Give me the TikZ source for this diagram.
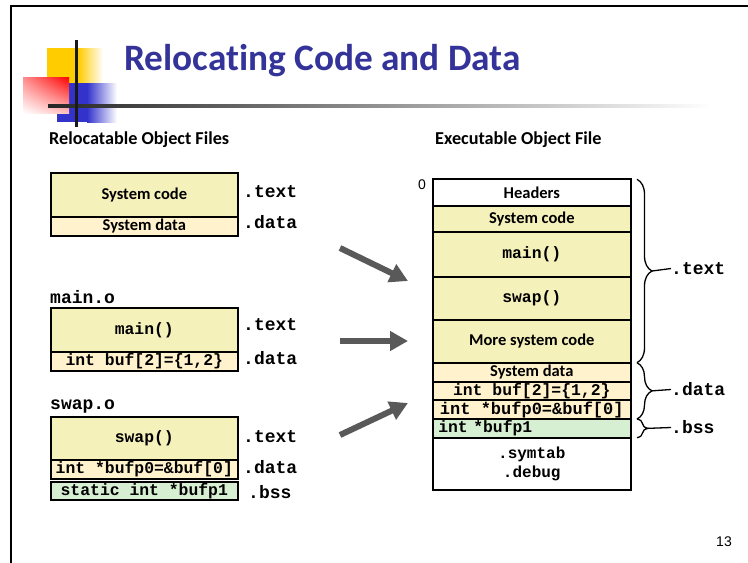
\documentclass[tikz,border=0pt]{standalone}
\usepackage{fontspec}
\setmainfont{Carlito}[Ligatures=NoCommon]
\newfontfamily\monof{Liberation Mono}
\newfontfamily\arialf{Liberation Sans}
\usetikzlibrary{arrows.meta,decorations.pathreplacing,shadings}
\definecolor{titleblue}{RGB}{51,51,153}
\definecolor{codec}{RGB}{245,241,186}
\definecolor{datac}{RGB}{255,242,204}
\definecolor{bssc}{RGB}{214,239,210}
\definecolor{arrowc}{RGB}{89,89,89}
\definecolor{logoyel}{RGB}{255,204,0}
\definecolor{logoblue}{RGB}{51,51,204}
\begin{document}
\begin{tikzpicture}[x=1pt,y=-1pt,
 box/.style={draw=black,line width=1.8pt,inner sep=0pt,minimum width=187.3pt},
 rbox/.style={draw=black,line width=1.8pt,inner sep=0pt,minimum width=198.3pt},
 sanslbl/.style={font=\bfseries\fontsize{16.5}{18}\selectfont},
 codetxt/.style={font=\monof\bfseries\fontsize{16.4}{18}\selectfont},
 seclbl/.style={font=\monof\bfseries\fontsize{18}{20}\selectfont, anchor=west, inner sep=0pt},
 headlbl/.style={font=\bfseries\fontsize{18.2}{20}\selectfont, anchor=base west, inner sep=0pt},
 bigarrow/.style={draw=arrowc, line width=6pt, -{Triangle[length=18pt,width=19pt]}},
 brc/.style={decorate, decoration={brace, amplitude=15pt}, line width=1.3pt},
 brcs/.style={decorate, decoration={brace, amplitude=11pt}, line width=1.3pt},
]
\useasboundingbox (0,0) rectangle (748,563);
\fill[white] (0,0) rectangle (748,563);
% frame
\draw[line width=2.5pt] (11,563) -- (11,6.2) -- (748,6.2);
% logo
\fill[logoyel] (47,48) rectangle (78,83);
\shade[left color=logoyel, right color=white] (78,48) rectangle (103,83);
\fill[logoblue] (57,83) rectangle (87,122);
\shade[left color=logoblue, right color=white] (87,83) rectangle (117,122);
\shade[upper left=red!45!white, upper right=red, lower left=white, lower right=red!25!white] (23,77) rectangle (69,113);
\shade[left color=black!85, right color=white] (48,104.8) rectangle (712,107.4);
\fill[black!90] (75,40) rectangle (78,127);
% title
\node[anchor=base west, inner sep=0pt, text=titleblue, font=\bfseries\fontsize{37.3}{40}\selectfont] (title) at (124,70) {Relocating Code and Data};
\node[headlbl] (lhead) at (49,144) {Relocatable Object Files};
\node[headlbl] (rhead) at (435,144) {Executable Object File};
% left: system
\node[box, fill=codec, minimum height=44pt, sanslbl] (sc) at (144.3,195) {System code};
\node[box, fill=datac, minimum height=19pt, sanslbl] (sd) at (144.3,226.5) {System data};
\node[seclbl] (sct) at (243,192) {.text};
\node[seclbl] (sdt) at (243,222) {.data};
% main.o
\node[seclbl, anchor=west] (mainlbl) at (50,296.7) {main.o};
\node[box, fill=codec, minimum height=44.3pt, codetxt] (mc) at (144.3,330) {main()};
\node[box, fill=datac, minimum height=18.7pt, codetxt] (md) at (144.3,361.3) {int buf[2]=\{1,2\}};
\node[seclbl] (mct) at (243,325) {.text};
\node[seclbl] (mdt) at (243,358.5) {.data};
% swap.o
\node[seclbl, anchor=west] (swaplbl) at (50,406.7) {swap.o};
\node[box, fill=codec, minimum height=43.3pt, codetxt] (wc) at (144.3,438.3) {swap()};
\node[box, fill=datac, minimum height=19pt, codetxt] (wd) at (144.3,469.5) {int *bufp0=\&buf[0]};
\node[box, fill=bssc, minimum height=18.3pt, codetxt] (wb) at (144.3,490.8) {static int *bufp1};
\node[seclbl] (wct) at (243,437) {.text};
\node[seclbl] (wdt) at (243,467) {.data};
\node[seclbl] (wbt) at (248,492) {.bss};
% right column
\node[font=\arialf\fontsize{14}{16}\selectfont] (zero) at (422,185) {0};
\node[rbox, fill=white, minimum height=26.4pt, sanslbl] (rh) at (531.8,192.5) {Headers};
\node[rbox, fill=codec, minimum height=26pt, sanslbl] (rsc) at (531.8,218.7) {System code};
\node[rbox, fill=codec, minimum height=45pt, codetxt] (rm) at (531.8,254.2) {main()};
\node[rbox, fill=codec, minimum height=43.3pt, codetxt] (rs) at (531.8,298.3) {swap()};
\node[rbox, fill=codec, minimum height=42.7pt, sanslbl] (rmore) at (531.8,341.3) {More system code};
\node[rbox, fill=datac, minimum height=19pt, sanslbl] (rsd) at (531.8,372.2) {System data};
\node[rbox, fill=datac, minimum height=18.3pt, codetxt] (rbuf) at (531.8,390.8) {int buf[2]=\{1,2\}};
\node[rbox, fill=datac, minimum height=19pt, codetxt, font=\monof\bfseries\fontsize{17}{18}\selectfont] (rp0) at (531.8,409.5) {int *bufp0=\&buf[0]};
\node[rbox, fill=bssc, minimum height=18.7pt, codetxt, text width=187pt, inner xsep=5.65pt, align=left] (rp1) at (531.8,428.3) {int *bufp1};
\node[rbox, fill=white, minimum height=52.3pt, codetxt, font=\monof\bfseries\fontsize{16}{19}\selectfont, align=center] (rsym) at (531.8,463.8) {.symtab\\.debug};
% braces
\coordinate (bt1) at (637,179.3); \coordinate (bt2) at (637,362.7);
\coordinate (bd2) at (637,419); \coordinate (bb2) at (637,437.7);
\draw[brc] (bt1) -- (bt2);
\draw[brc] (bt2) -- (bd2);
\draw[brcs] (bd2) -- (bb2);
\node[seclbl] (rtext) at (671,268.5) {.text};
\node[seclbl] (rdata) at (671,389.5) {.data};
\node[seclbl] (rbss) at (671,427.5) {.bss};
\draw[line width=1.3pt] (652,271) -- (rtext.west);
\draw[line width=1.3pt] (652,390.85) -- (rdata.west);
\draw[line width=1.3pt] (648,428.35) -- (rbss.west);
% arrows
\coordinate (a1s) at (340,248); \coordinate (a1e) at (408,281);
\coordinate (a2s) at (340,341); \coordinate (a2e) at (408,341);
\coordinate (a3s) at (340,435); \coordinate (a3e) at (408,403);
\draw[bigarrow] (a1s) -- (a1e);
\draw[bigarrow] (a2s) -- (a2e);
\draw[bigarrow] (a3s) -- (a3e);
% page number
\node[font=\arialf\fontsize{14}{16}\selectfont] (pg) at (724,542) {13};
\end{tikzpicture}
\end{document}
